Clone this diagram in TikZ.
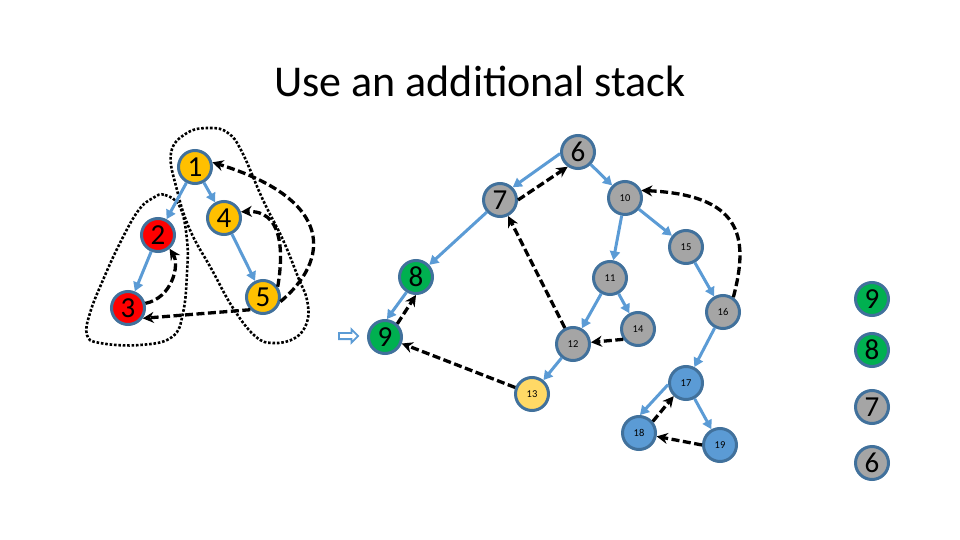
\documentclass[tikz,border=0pt]{standalone}
\usepackage{fontspec}
\setmainfont{Carlito}
\usetikzlibrary{
arrows.meta,
shapes.arrows
}
\definecolor{SCCLine}{HTML}{41719C}
\definecolor{SCCBlue}{HTML}{5B9BD5}
\definecolor{SCCGold}{HTML}{FFC000}
\definecolor{SCCRed}{HTML}{FF0000}
\definecolor{SCCGray}{HTML}{A5A5A5}
\definecolor{SCCGreen}{HTML}{00B050}
\definecolor{SCCYellow}{HTML}{FFD966}
\tikzset{
vtx/.style={circle, draw=SCCLine, line width=3pt, minimum size=33pt, inner sep=0pt,
  font=\fontsize{29}{29}\selectfont},
vtxsmall/.style={vtx, font=\fontsize{10.5}{10.5}\selectfont},
treeedge/.style={-{Triangle[length=9pt,width=10pt]}, line width=3pt, draw=SCCBlue},
backedge/.style={-{Stealth[length=11pt,width=11pt]}, line width=3.3pt, draw=black,
  dash pattern=on 8pt off 3.5pt},
lasso/.style={draw=black, line width=2.6pt, dash pattern=on 2.6pt off 1.8pt}
}
\begin{document}
\begin{tikzpicture}[x=1pt, y=-1pt]
\useasboundingbox (0,0) rectangle (960,540);
\node[anchor=base] (title) at (480,97) {\fontsize{44}{44}\selectfont Use an additional stack};

\node[vtx, fill=SCCGold] (n1) at (195,167) {1};
\node[vtx, fill=SCCRed] (n2) at (158,235) {2};
\node[vtx, fill=SCCRed] (n3) at (128,308) {3};
\node[vtx, fill=SCCGold] (n4) at (224,218) {4};
\node[vtx, fill=SCCGold] (n5) at (263,297) {5};

\node[vtx, fill=SCCGray] (n6) at (578,152) {6};
\node[vtx, fill=SCCGray] (n7) at (500,200) {7};
\node[vtx, fill=SCCGreen] (n8) at (416,277) {8};
\node[vtx, fill=SCCGreen] (n9) at (385,337) {9};
\node[vtxsmall, fill=SCCGray] (n10) at (625,198) {10};
\node[vtxsmall, fill=SCCGray] (n11) at (610,278) {11};
\node[vtxsmall, fill=SCCGray] (n12) at (573,344) {12};
\node[vtxsmall, fill=SCCYellow] (n13) at (532,394) {13};
\node[vtxsmall, fill=SCCGray] (n14) at (638,329) {14};
\node[vtxsmall, fill=SCCGray] (n15) at (686,247) {15};
\node[vtxsmall, fill=SCCGray] (n16) at (723,312) {16};
\node[vtxsmall, fill=SCCBlue] (n17) at (686,383) {17};
\node[vtxsmall, fill=SCCBlue] (n18) at (639,433) {18};
\node[vtxsmall, fill=SCCBlue] (n19) at (720,445) {19};

\node[single arrow, draw=SCCBlue, fill=white, line width=1.8pt, inner sep=2.2pt,
  minimum height=19pt, single arrow head extend=3.5pt] (cur) at (347,336) {};

\node[vtx, fill=SCCGreen] (s9) at (872,299) {9};
\node[vtx, fill=SCCGreen] (s8) at (872,350) {8};
\node[vtx, fill=SCCGray] (s7) at (872,407) {7};
\node[vtx, fill=SCCGray] (s6) at (872,463) {6};

\draw[lasso] plot[smooth cycle, tension=0.7] coordinates {(153,198) (165,195) (180,207) (187,240)
  (187,273) (183,313) (172,337) (140,345) (100,343) (87,335) (90,313) (103,280) (120,243) (138,211)};
\draw[lasso] plot[smooth cycle, tension=0.7] coordinates {(187,133) (210,128) (228,133) (242,152)
  (263,200) (283,240) (298,277) (307,300) (307,322) (295,338) (273,343) (255,336) (233,308)
  (212,270) (190,230) (177,190) (171,153)};

\draw[treeedge] (n1) -- (n2);
\draw[treeedge] (n1) -- (n4);
\draw[treeedge] (n2) -- (n3);
\draw[treeedge] (n4) -- (n5);
\draw[treeedge] (n6.185) -- (n7.45);
\draw[treeedge] (n7) -- (n8);
\draw[treeedge] (n8.238) -- (n9.84);
\draw[treeedge] (n6) -- (n10);
\draw[treeedge] (n10) -- (n11);
\draw[treeedge] (n10) -- (n15);
\draw[treeedge] (n11) -- (n12);
\draw[treeedge] (n11) -- (n14);
\draw[treeedge] (n12) -- (n13);
\draw[treeedge] (n15) -- (n16);
\draw[treeedge] (n16) -- (n17);
\draw[treeedge] (n17.185) -- (n18.87);
\draw[treeedge] (n17) -- (n19);

\draw[backedge] (n3.15) .. controls (172,298) and (180,265) .. (n2.-50);
\draw[backedge] (n5.35) .. controls (284,250) and (282,210) .. (n4.20);
\draw[backedge] (n5.-15) .. controls (330,260) and (335,200) .. (n1.15);
\draw[backedge] (n5.225) -- (n3.-35);
\draw[backedge] (n7.0) -- (n6.235);
\draw[backedge] (n9.47) -- (n8.270);
\draw[backedge] (n13) -- (n9);
\draw[backedge] (n12) -- (n7);
\draw[backedge] (n14.215) -- (n12);
\draw[backedge] (n16.55) .. controls (750,235) and (740,195) .. (n10.25);
\draw[backedge] (n18.40) -- (n17.227);
\draw[backedge] (n19.west) -- (n18);
\end{tikzpicture}
\end{document}
